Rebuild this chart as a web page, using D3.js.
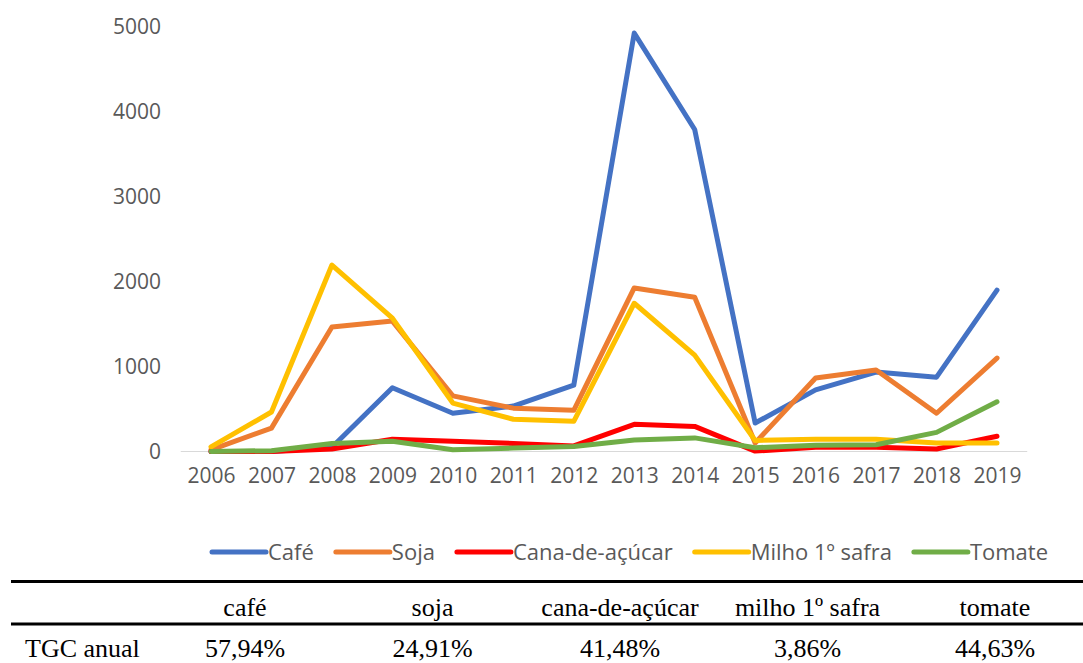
<!DOCTYPE html>
<html lang="pt">
<head>
<meta charset="utf-8">
<script src="https://cdn.jsdelivr.net/npm/d3@7"></script>
<style>
  html, body { margin: 0; padding: 0; background: #ffffff; }
  svg { display: block; }
</style>
</head>
<body>
<svg id="chart" width="1083" height="663"></svg>
<script>
// Anos da série
const years = [2006, 2007, 2008, 2009, 2010, 2011, 2012, 2013, 2014, 2015, 2016, 2017, 2018, 2019];

// Valores por cultura
const cafe   = [0, 0, 50, 750, 450, 535, 780, 4925, 3790, 335, 725, 935, 875, 1900];
const soja   = [20, 275, 1465, 1535, 655, 510, 485, 1925, 1815, 100, 865, 960, 450, 1100];
const cana   = [0, 0, 30, 145, 120, 95, 65, 320, 295, 5, 50, 50, 30, 180];
const milho  = [55, 465, 2195, 1570, 570, 380, 355, 1745, 1135, 130, 145, 145, 100, 100];
const tomate = [0, 10, 95, 120, 20, 40, 60, 135, 160, 45, 75, 80, 225, 585];

const seriesNames  = ["Café", "Soja", "Cana-de-açúcar", "Milho 1º safra", "Tomate"];
const seriesColors = ["#4472C4", "#ED7D31", "#FF0000", "#FFC000", "#70AD47"];
const seriesValues = [cafe, soja, cana, milho, tomate];

const yTicks = [0, 1000, 2000, 3000, 4000, 5000];

// Tabela de taxa geométrica de crescimento
const tableHeaders = ["café", "soja", "cana-de-açúcar", "milho 1º safra", "tomate"];
const tableRowLabel = "TGC anual";
const tgcValues = ["57,94%", "24,91%", "41,48%", "3,86%", "44,63%"];

const svg = d3.select("#chart");

const x = d3.scalePoint().domain(years).range([211, 997]);
const y = d3.scaleLinear().domain([0, 5000]).range([451.5, 26.7]);
const step = x.step();

const labelColor = "#595959";
const uiFont = "'Open Sans', 'Noto Sans', sans-serif";

// Linha de base do eixo horizontal
svg.append("line")
  .attr("x1", x(years[0]) - step / 2)
  .attr("x2", x(years[years.length - 1]) + step / 2)
  .attr("y1", y(0)).attr("y2", y(0))
  .attr("stroke", "#d9d9d9").attr("stroke-width", 1);

// Eixo Y
const yAxis = svg.append("g")
  .attr("transform", "translate(161,0)")
  .call(d3.axisLeft(y).tickValues(yTicks).tickSize(0).tickPadding(0).tickFormat(d3.format("d")));
yAxis.select(".domain").remove();
yAxis.selectAll("text")
  .attr("fill", labelColor)
  .style("font-family", uiFont)
  .style("font-size", "21px");

// Eixo X
const xAxis = svg.append("g")
  .attr("transform", `translate(0,${y(0)})`)
  .call(d3.axisBottom(x).tickSize(0).tickPadding(17).tickFormat(d3.format("d")));
xAxis.select(".domain").remove();
xAxis.selectAll("text")
  .attr("fill", labelColor)
  .style("font-family", uiFont)
  .style("font-size", "21px");

// Linhas das séries
const line = d3.line()
  .x((d, i) => x(years[i]))
  .y(d => y(d));

svg.append("g").selectAll("path")
  .data(seriesValues)
  .join("path")
  .attr("d", d => line(d))
  .attr("fill", "none")
  .attr("stroke", (d, i) => seriesColors[i])
  .attr("stroke-width", 5)
  .attr("stroke-linejoin", "round")
  .attr("stroke-linecap", "round");

// Legenda
const legend = svg.append("g").attr("transform", "translate(211,552)");
let cursor = 0;
seriesNames.forEach((name, i) => {
  const item = legend.append("g").attr("transform", `translate(${cursor},0)`);
  item.append("line")
    .attr("x1", 1).attr("x2", 55)
    .attr("y1", 0).attr("y2", 0)
    .attr("stroke", seriesColors[i])
    .attr("stroke-width", 5)
    .attr("stroke-linecap", "round");
  const t = item.append("text")
    .attr("x", 57)
    .attr("y", 7.5)
    .attr("fill", labelColor)
    .style("font-family", uiFont)
    .style("font-size", "22px")
    .text(name);
  cursor += 57 + t.node().getComputedTextLength() + 21;
});

// Tabela
const serif = "'Liberation Serif', 'Times New Roman', serif";
const col = d3.scalePoint().domain(tableHeaders).range([245, 995]);

svg.append("line")
  .attr("x1", 11).attr("x2", 1083)
  .attr("y1", 581.5).attr("y2", 581.5)
  .attr("stroke", "#000").attr("stroke-width", 3);
svg.append("line")
  .attr("x1", 11).attr("x2", 1083)
  .attr("y1", 624).attr("y2", 624)
  .attr("stroke", "#000").attr("stroke-width", 3);

svg.append("g").selectAll("text")
  .data(tableHeaders)
  .join("text")
  .attr("x", d => col(d))
  .attr("y", 616)
  .attr("text-anchor", "middle")
  .style("font-family", serif)
  .style("font-size", "26px")
  .attr("fill", "#000")
  .text(d => d);

svg.append("text")
  .attr("x", 25)
  .attr("y", 657)
  .style("font-family", serif)
  .style("font-size", "26px")
  .attr("fill", "#000")
  .text(tableRowLabel);

svg.append("g").selectAll("text")
  .data(tgcValues)
  .join("text")
  .attr("x", (d, i) => col(tableHeaders[i]))
  .attr("y", 657)
  .attr("text-anchor", "middle")
  .style("font-family", serif)
  .style("font-size", "26px")
  .attr("fill", "#000")
  .text(d => d);
</script>
</body>
</html>
